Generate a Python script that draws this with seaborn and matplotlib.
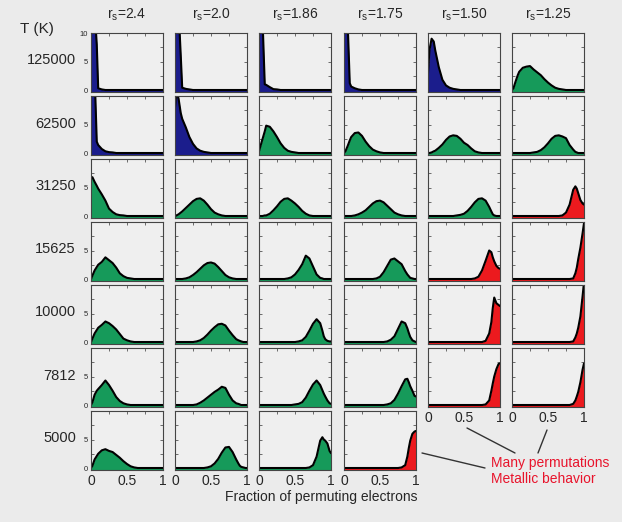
import numpy as np
import pandas as pd
import matplotlib
matplotlib.use("Agg")
import matplotlib.pyplot as plt
from matplotlib.lines import Line2D
import seaborn as sns

# ---------------- data ----------------
RS_LABELS = ["2.4", "2.0", "1.86", "1.75", "1.50", "1.25"]
TEMPS = ["125000", "62500", "31250", "15625", "10000", "7812", "5000"]

# fraction of permuting electrons (shared sample positions)
XGRID = [0, .02, .05, .08, .1, .15, .2, .25, .3, .35, .4, .45, .5, .55, .6,
         .65, .7, .75, .8, .85, .88, .9, .92, .95, .98, 1.0]

# probability density, one list per r_s value, for each temperature
T125000 = [
    [14, 14, 14, 8, 0.3, 0.1] + [0] * 20,
    [14, 14, 14, 6, 0.4, 0.2, 0.1] + [0] * 19,
    [14, 14, 12, 1.0, 0.9, 0.5, 0.15, 0.1] + [0] * 18,
    [14, 14, 12, 1.2, 0.6, 0.3, 0.1] + [0] * 19,
    [3, 7, 9, 8.5, 7, 4, 1.8, 0.8, 0.4, 0.2, 0.1] + [0] * 15,
    [0, 0.3, 1.5, 2.6, 3.2, 3.9, 4.1, 4.2, 3.6, 3.1, 2.6, 1.9, 1.3, 0.8, 0.4, 0.2, 0.1] + [0] * 9,
]
T62500 = [
    [14, 14, 14, 2.0, 1.4, 0.7, 0.3, 0.15, 0.1] + [0] * 17,
    [8, 11, 9.5, 7, 6, 4.5, 2.8, 1.6, 0.8, 0.4, 0.2, 0.1] + [0] * 14,
    [0.3, 1.2, 2.5, 3.8, 4.8, 4.6, 3.8, 2.8, 1.7, 0.9, 0.4, 0.2, 0.1] + [0] * 13,
    [0, 0.3, 1.2, 2.2, 2.8, 3.5, 3.6, 3.0, 2.0, 1.2, 0.6, 0.3, 0.1] + [0] * 13,
    [0, 0, 0.1, 0.3, 0.4, 0.9, 1.5, 2.3, 2.9, 3.1, 3.0, 2.5, 1.8, 1.4, 0.8, 0.3, 0.1] + [0] * 9,
    [0] * 8 + [0.1, 0.2, 0.5, 1.0, 1.7, 2.5, 3.0, 3.1, 2.9, 2.6, 1.4, 0.6, 0.2, 0.1] + [0] * 4,
]
T31250 = [
    [6.8, 6.8, 6.0, 5.3, 4.8, 3.8, 2.7, 1.3, 0.7, 0.3, 0.15, 0.1] + [0] * 14,
    [0, 0.1, 0.3, 0.6, 0.8, 1.4, 2.0, 2.6, 3.0, 3.1, 2.7, 2.0, 1.2, 0.6, 0.3, 0.1] + [0] * 10,
    [0, 0, 0, 0.1, 0.1, 0.4, 1.0, 1.7, 2.5, 3.0, 3.1, 2.7, 2.2, 1.6, 0.9, 0.4, 0.1] + [0] * 9,
    [0, 0, 0, 0, 0, 0.1, 0.3, 0.6, 1.0, 1.6, 2.2, 2.6, 2.7, 2.4, 1.8, 1.2, 0.6, 0.3, 0.1] + [0] * 7,
    [0] * 10 + [0.1, 0.2, 0.4, 0.9, 1.6, 2.4, 3.0, 3.1, 2.7, 1.6, 0.8, 0.3, 0.1] + [0] * 3,
    [0] * 16 + [0.1, 0.6, 2.0, 4.6, 5.2, 4.8, 4.0, 2.8, 2.2, 2.0],
]
T15625 = [
    [0, 0.6, 1.5, 2.1, 2.5, 3.0, 3.8, 3.3, 2.8, 2.0, 1.0, 0.5, 0.2, 0.1] + [0] * 12,
    [0, 0, 0, 0, 0, 0.1, 0.3, 0.7, 1.2, 1.8, 2.4, 2.8, 2.9, 2.7, 2.1, 1.4, 0.7, 0.3, 0.1] + [0] * 7,
    [0] * 10 + [0.1, 0.3, 0.8, 1.6, 2.6, 4.1, 3.6, 2.2, 0.8, 0.2, 0.1] + [0] * 5,
    [0] * 11 + [0.1, 0.4, 1.2, 2.3, 3.4, 3.6, 3.1, 2.6, 1.4, 0.8, 0.5, 0.2, 0.1] + [0] * 2,
    [0] * 15 + [0.1, 0.4, 1.5, 3.2, 5.0, 4.7, 3.8, 3.1, 2.3, 1.9, 1.8],
    [0] * 19 + [0.1, 1.0, 2.0, 3.5, 5.5, 8.0, 9.8],
]
T10000 = [
    [0, 0.6, 1.5, 2.1, 2.5, 3.0, 3.6, 3.3, 2.8, 2.2, 1.4, 0.6, 0.3, 0.1] + [0] * 12,
    [0] * 8 + [0.1, 0.3, 0.7, 1.3, 2.0, 2.6, 3.1, 3.2, 2.9, 2.0, 1.2, 0.5, 0.3, 0.2, 0.1] + [0] * 3,
    [0] * 13 + [0.1, 0.3, 0.9, 2.0, 3.2, 4.0, 3.3, 2.0, 1.0, 0.5, 0.2, 0.1, 0.1],
    [0] * 14 + [0.1, 0.4, 1.0, 2.3, 3.6, 3.3, 2.4, 1.6, 0.9, 0.3, 0.1, 0],
    [0] * 18 + [0.2, 1.5, 3.5, 6.0, 7.8, 6.8, 6.5, 6.3],
    [0] * 19 + [0.1, 0.8, 1.5, 2.5, 4.5, 8.0, 10.5],
]
T7812 = [
    [0, 0.5, 1.8, 2.5, 2.8, 3.5, 4.3, 3.5, 2.5, 1.4, 0.7, 0.3, 0.1] + [0] * 13,
    [0] * 8 + [0.1, 0.4, 0.8, 1.3, 1.8, 2.3, 2.7, 3.2, 3.0, 1.8, 0.8, 0.3, 0.2, 0.1] + [0] * 4,
    [0] * 12 + [0.1, 0.2, 0.5, 1.3, 2.5, 3.6, 4.3, 3.5, 2.6, 2.0, 1.5, 0.8, 0.3, 0.2],
    [0] * 14 + [0.1, 0.3, 0.9, 2.0, 3.3, 4.5, 4.6, 4.0, 3.3, 2.5, 1.6, 1.5],
    [0] * 18 + [0.1, 0.8, 2.5, 3.8, 5.0, 6.3, 7.2, 7.3],
    [0] * 19 + [0.2, 0.8, 1.5, 2.3, 4.0, 6.2, 7.3],
]
T5000 = [
    [0, 0.4, 1.5, 2.1, 2.5, 3.1, 3.3, 3.0, 2.8, 2.3, 1.8, 1.2, 0.7, 0.3, 0.1] + [0] * 11,
    [0] * 11 + [0.1, 0.3, 0.8, 1.6, 2.7, 3.6, 3.7, 2.8, 1.5, 0.8, 0.4, 0.2, 0.1] + [0] * 2,
    [0] * 16 + [0.1, 0.5, 2.0, 4.8, 5.4, 5.0, 4.8, 4.3, 3.0, 2.6],
    [0] * 18 + [0.1, 0.5, 2.0, 3.5, 4.8, 6.0, 6.4, 6.5],
]
ROWS = [T125000, T62500, T31250, T15625, T10000, T7812, T5000]

# phase of each panel: b = few permutations, g = intermediate, r = metallic
PHASES = ["bbbbbg", "bbgggg", "gggggr", "ggggrr", "ggggrr", "ggggrr", "gggr"]

# ---------------- style ----------------
sns.set_style("ticks")
plt.rcParams["font.family"] = ["Liberation Sans", "DejaVu Sans"]
BG = "#ebebeb"
AX_BG = "#efefef"
FILL = {"b": "#1b1d8c", "g": "#169a5a", "r": "#ec1a1e"}
RED_TXT = "#e8142c"

W, H = 622, 522
fig = plt.figure(figsize=(W / 100, H / 100), dpi=100, facecolor=BG)


def fx(p):
    return p / W


def fy(p):
    return 1 - p / H


COL_LEFT = [91, 175, 259, 344, 428, 512]
ROW_TOP = [33, 96, 159, 222, 285, 348, 411]
PW, PH = 72, 59
YMIN = -0.35

for r, curves in enumerate(ROWS):
    for c, vals in enumerate(curves):
        assert len(vals) == len(XGRID)
        ax = fig.add_axes([fx(COL_LEFT[c]), fy(ROW_TOP[r] + PH), PW / W, PH / H])
        ax.set_facecolor(AX_BG)
        df = pd.DataFrame({"x": XGRID, "p": vals})
        ax.fill_between(df["x"], df["p"], YMIN, color=FILL[PHASES[r][c]], lw=0)
        sns.lineplot(data=df, x="x", y="p", ax=ax, color="black", lw=1.5,
                     legend=False, clip_on=True)
        ax.set_xlim(0, 1)
        ax.set_ylim(YMIN, 10)
        ax.set_xlabel("")
        ax.set_ylabel("")
        ax.set_xticks([0, 0.5, 1])
        ax.set_xticks([0.25, 0.75], minor=True)
        ax.set_yticks([0, 5, 10])
        ax.set_yticks([2.5, 7.5], minor=True)
        ax.tick_params(which="both", direction="in", top=True, right=True,
                       length=2.5, width=0.6, color="#555555")
        last_row = (r == len(ROWS) - 1) or (c >= len(ROWS[r + 1]))
        if last_row:
            ax.set_xticklabels(["0", "0.5", "1"], fontsize=10)
            ax.tick_params(axis="x", pad=3)
        else:
            ax.set_xticklabels([])
        if c == 0:
            ax.set_yticklabels(["0", "5", "10" if r == 0 else ""], fontsize=5.5)
            ax.tick_params(axis="y", pad=2)
        else:
            ax.set_yticklabels([])
        for s in ax.spines.values():
            s.set_color("#444444")
            s.set_linewidth(0.8)

# column titles
for c, rs in enumerate(RS_LABELS):
    fig.text(fx(COL_LEFT[c] + PW / 2), fy(15), r"r$_\mathregular{s}$=" + rs,
             ha="center", va="center", fontsize=10)

# row labels
fig.text(fx(20), fy(29), "T (K)", ha="left", va="center", fontsize=11)
for r, t in enumerate(TEMPS):
    fig.text(fx(76), fy(ROW_TOP[r] + PH / 2 - 2), t, ha="right", va="center",
             fontsize=10.5)

fig.text(fx(321), fy(497), "Fraction of permuting electrons", ha="center",
         va="center", fontsize=10)

# annotation
fig.text(fx(491), fy(463), "Many permutations", color=RED_TXT, fontsize=10,
         ha="left", va="center")
fig.text(fx(491), fy(479), "Metallic behavior", color=RED_TXT, fontsize=10,
         ha="left", va="center")
for (x0, y0, x1, y1) in [(467, 428, 515, 453), (547, 430, 538, 453), (422, 453, 485, 468)]:
    fig.add_artist(Line2D([fx(x0), fx(x1)], [fy(y0), fy(y1)],
                          transform=fig.transFigure, color="#333333", lw=1))

fig.savefig("out.png", dpi=100, facecolor=BG)
